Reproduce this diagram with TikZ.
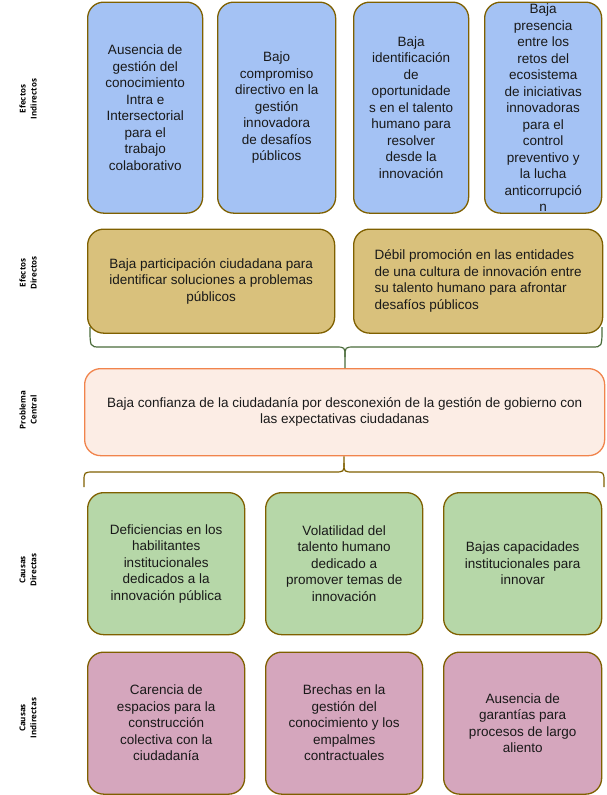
\documentclass[tikz,border=0pt]{standalone}
\usepackage{fontspec}
\setmainfont{Liberation Sans}
\newfontfamily\sidefont{Open Sans}

\definecolor{clrline}{HTML}{7F6000}
\definecolor{clrblue}{HTML}{A4C2F4}
\definecolor{clrgold}{HTML}{D9C17C}
\definecolor{clrcore}{HTML}{FCEDE5}
\definecolor{clrcoreline}{HTML}{F1844C}
\definecolor{clrgreen}{HTML}{B6D7A8}
\definecolor{clrpink}{HTML}{D5A6BD}
\definecolor{clrbrace}{HTML}{4A6B3A}

\tikzset{
	box/.style={draw=clrline, line width=1.3pt, rounded corners=16pt, anchor=north west,
		inner sep=0pt, align=center, text=black!90,
		font=\fontsize{13.5}{16.5}\selectfont},
	side/.style={rotate=90, align=center, inner sep=0pt,
		font=\sidefont\bfseries\fontsize{8}{11}\selectfont},
}

\begin{document}
\begin{tikzpicture}[x=1pt,y=-1pt]

\def\topH{211}
\def\effH{104}
\def\causeH{142}

\useasboundingbox (0,0) rectangle (606,795);

% side labels
\node [side] (lEI) at (28,99)  {Efectos\\Indirectos};
\node [side] (lED) at (28,273) {Efectos\\Directos};
\node [side] (lPC) at (28,410) {Problema\\Central};
\node [side] (lCD) at (28,570) {Causas\\Directas};
\node [side] (lCI) at (28,718) {Causas\\Indirectas};

% efectos indirectos
\node [box,fill=clrblue,minimum width=115,minimum height=\topH] (ei1) at (87,1.5)
	{Ausencia de\\gestión del\\conocimiento\\Intra e\\Intersectorial\\para el\\trabajo\\colaborativo};
\node [box,fill=clrblue,minimum width=118,minimum height=\topH] (ei2) at (217,1.5)
	{Bajo\\compromiso\\directivo en la\\gestión\\innovadora\\de desafíos\\públicos};
\node [box,fill=clrblue,minimum width=115,minimum height=\topH] (ei3) at (353,1.5)
	{Baja\\identificación\\de\\oportunidade\\s en el talento\\humano para\\resolver\\desde la\\innovación};
\node [box,fill=clrblue,minimum width=117,minimum height=\topH] (ei4) at (484,1.5)
	{Baja\\presencia\\entre los\\retos del\\ecosistema\\de iniciativas\\innovadoras\\para el\\control\\preventivo y\\la lucha\\anticorrupció\\n};

% efectos directos
\node [box,fill=clrgold,minimum width=247,minimum height=\effH] (ed1) at (87,228.5)
	{Baja participación ciudadana para\\identificar soluciones a problemas\\públicos};
\node [box,fill=clrgold,minimum width=249,minimum height=\effH,align=left] (ed2) at (353,228.5)
	{Débil promoción en las entidades\\de una cultura de innovación entre\\su talento humano para afrontar\\desafíos públicos};

% problema central
\node [box,draw=clrcoreline,fill=clrcore,minimum width=520,minimum height=87] (pc) at (84,368)
	{Baja confianza de la ciudadanía por desconexión de la gestión de gobierno con\\las expectativas ciudadanas};

% causas directas
\node [box,fill=clrgreen,minimum width=157,minimum height=\causeH] (cd1) at (87,492)
	{Deficiencias en los\\habilitantes\\institucionales\\dedicados a la\\innovación pública};
\node [box,fill=clrgreen,minimum width=157,minimum height=\causeH] (cd2) at (265,492)
	{Volatilidad del\\talento humano\\dedicado a\\promover temas de\\innovación};
\node [box,fill=clrgreen,minimum width=158,minimum height=\causeH] (cd3) at (443,492)
	{Bajas capacidades\\institucionales para\\innovar};

% causas indirectas
\node [box,fill=clrpink,minimum width=157,minimum height=\causeH] (ci1) at (87,651.5)
	{Carencia de\\espacios para la\\construcción\\colectiva con la\\ciudadanía};
\node [box,fill=clrpink,minimum width=157,minimum height=\causeH] (ci2) at (265,651.5)
	{Brechas en la\\gestión del\\conocimiento y los\\empalmes\\contractuales};
\node [box,fill=clrpink,minimum width=158,minimum height=\causeH] (ci3) at (443,651.5)
	{Ausencia de\\garantías para\\procesos de largo\\aliento};

% brace effects -> problem
\begin{scope}[draw=clrbrace,line width=1.2pt]
	\draw (90,327) .. controls (90,347) .. (100,347) -- (335,347)
	      .. controls (345,347) .. (345,357) -- (pc.north -| 345,0);
	\draw (602,327) .. controls (602,347) .. (592,347) -- (355,347)
	      .. controls (345,347) .. (345,357);
\end{scope}

% brace problem -> causes
\begin{scope}[draw=clrline,line width=1.2pt]
	\draw (pc.south -| 344,0) -- (344,463) .. controls (344,472) .. (334,472) -- (94,472)
	      .. controls (84,472) .. (84,482) -- (84,487);
	\draw (344,463) .. controls (344,472) .. (354,472) -- (594,472)
	      .. controls (604,472) .. (604,482) -- (604,487);
\end{scope}

\end{tikzpicture}
\end{document}
